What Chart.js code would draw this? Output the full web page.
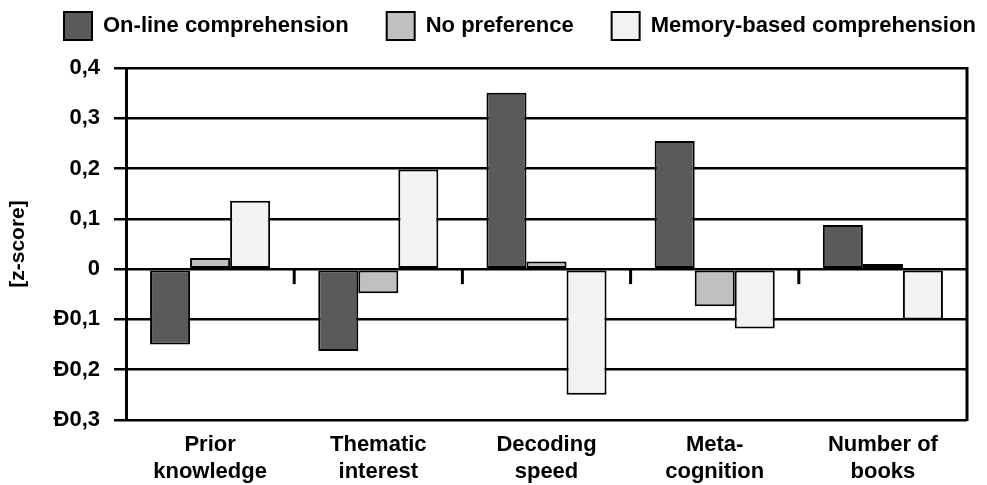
<!DOCTYPE html>
<html>
<head>
<meta charset="utf-8">
<script src="https://cdn.jsdelivr.net/npm/chart.js@4.4.1/dist/chart.umd.min.js"></script>
<style>
  html, body { margin: 0; padding: 0; background: #fff; }
  #wrap { width: 987px; height: 485px; }
</style>
</head>
<body>
<div id="wrap"><canvas id="chart" width="987" height="485"></canvas></div>
<script>
const categories = [['Prior', 'knowledge'], ['Thematic', 'interest'], ['Decoding', 'speed'], ['Meta-', 'cognition'], ['Number of', 'books']];
const seriesNames = ['On-line comprehension', 'No preference', 'Memory-based comprehension'];
const onlineValues = [-0.15, -0.163, 0.351, 0.255, 0.088];
const noPrefValues = [0.022, -0.048, 0.015, -0.074, 0.01];
const memoryValues = [0.136, 0.198, -0.25, -0.118, -0.1];
const yTickValues = [-0.3, -0.2, -0.1, 0, 0.1, 0.2, 0.3, 0.4];
const yTickLabels = ['Ð0,3', 'Ð0,2', 'Ð0,1', '0', '0,1', '0,2', '0,3', '0,4'];

const fontFamily = '"Liberation Sans", Arial, sans-serif';
const colors = ['#5a5a5a', '#c0c0c0', '#f2f2f2'];
const legendPad = 38;
const legendStartX = 64;
const legendExtraHeight = 18;

// legend: one row starting at legendStartX, further above the plot
const legendTweak = {
  id: 'legendTweak',
  beforeInit(chart) {
    const fit = chart.legend.fit;
    chart.legend.fit = function () {
      const mw = this.maxWidth;
      this.maxWidth = 2000;
      fit.call(this);
      this.maxWidth = mw;
      this.width = mw;
      this.height += legendExtraHeight;
    };
  },
  beforeDraw(chart) {
    const lg = chart.legend;
    lg._saved = [lg.left, lg.right];
    lg.left = legendStartX - legendPad;
    lg.right = 3000;
  },
  afterDraw(chart) {
    const lg = chart.legend;
    [lg.left, lg.right] = lg._saved;
  }
};

// right border + small category ticks hanging under the zero line
const extras = {
  id: 'extras',
  afterDatasetsDraw(chart) {
    const { ctx, chartArea, scales } = chart;
    const y0 = scales.y.getPixelForValue(0);
    ctx.save();
    ctx.strokeStyle = '#000';
    ctx.lineWidth = 3;
    for (let i = 0; i < categories.length - 1; i++) {
      const x = scales.x.getPixelForValue(i + 0.5);
      ctx.beginPath();
      ctx.moveTo(x, y0);
      ctx.lineTo(x, y0 + 15);
      ctx.stroke();
    }
    ctx.beginPath();
    ctx.moveTo(chartArea.right, chartArea.top - 1);
    ctx.lineTo(chartArea.right, chartArea.bottom + 1);
    ctx.stroke();
    ctx.restore();
  }
};

new Chart(document.getElementById('chart'), {
  type: 'bar',
  data: {
    labels: categories,
    datasets: [onlineValues, noPrefValues, memoryValues].map((vals, i) => ({
      label: seriesNames[i],
      data: vals,
      backgroundColor: colors[i],
      borderColor: '#000',
      borderWidth: 2,
      borderSkipped: false,
      categoryPercentage: 0.714,
      barPercentage: 1
    }))
  },
  options: {
    responsive: false,
    animation: false,
    layout: { padding: { left: 6, right: 20, top: -26, bottom: 0 } },
    plugins: {
      tooltip: { enabled: false },
      legend: {
        position: 'top',
        align: 'start',
        labels: {
          color: '#000',
          font: { family: fontFamily, size: 22, weight: 'bold' },
          boxWidth: 28,
          boxHeight: 28,
          padding: legendPad
        }
      }
    },
    scales: {
      x: {
        grid: { display: false },
        border: { display: false },
        ticks: {
          color: '#000',
          font: { family: fontFamily, size: 22, weight: 'bold' },
          padding: 4,
          maxRotation: 0,
          autoSkip: false
        },
        afterFit(scale) { scale.height = 65; }
      },
      y: {
        min: -0.3,
        max: 0.4,
        afterBuildTicks(scale) {
          scale.ticks = yTickValues.map(v => ({ value: v }));
        },
        grid: { color: '#000', lineWidth: 2.5, tickLength: 12 },
        border: { color: '#000', width: 3 },
        ticks: {
          color: '#000',
          padding: 14,
          font: { family: fontFamily, size: 22, weight: 'bold' },
          callback: (value) => yTickLabels[yTickValues.findIndex(v => Math.abs(v - value) < 1e-6)]
        },
        title: {
          display: true,
          text: '[z-score]',
          color: '#000',
          font: { family: fontFamily, size: 21, weight: 'bold' },
          padding: { top: 0, bottom: 14 }
        },
        afterFit(scale) { scale.width = 120; }
      }
    }
  },
  plugins: [legendTweak, extras]
});
</script>
</body>
</html>
